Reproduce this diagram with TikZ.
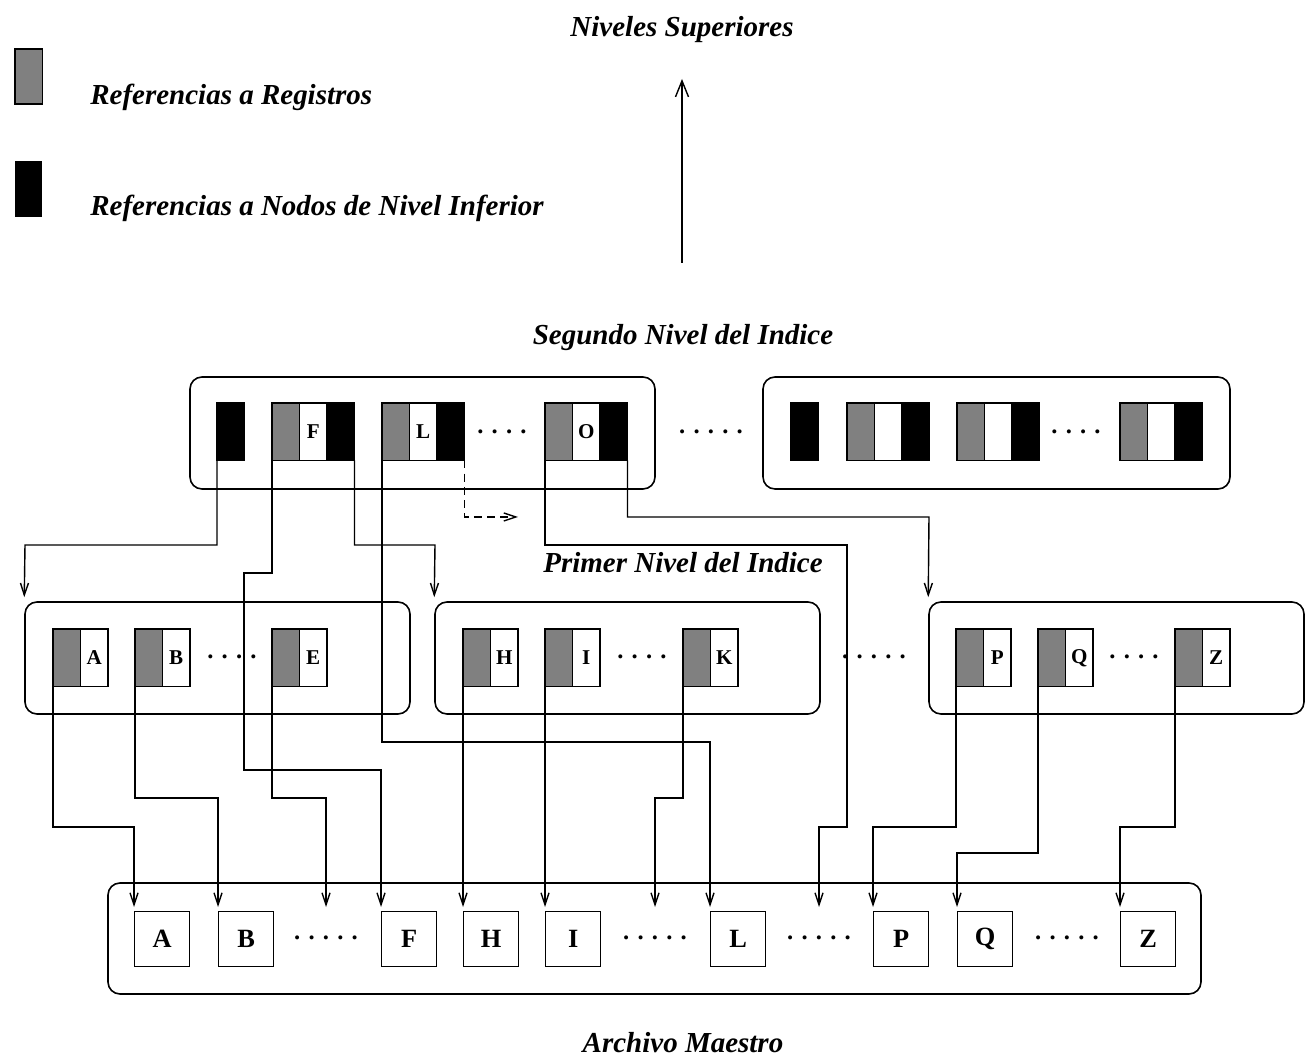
\documentclass[tikz,border=0pt]{standalone}
\usepackage{fontspec}
\setmainfont{Liberation Serif}
\usetikzlibrary{arrows.meta,fit}
\tikzset{>=Stealth,
  celda/.style={draw,line width=.8pt,inner sep=0pt,outer sep=0pt,anchor=north west,
    minimum width=.55cm,minimum height=1.15cm,font=\fontsize{12}{12}\selectfont\bfseries},
  gris/.style={celda,fill=black!50},
  negra/.style={celda,fill=black},
  blanca/.style={celda,fill=white},
  caja/.style={draw,line width=.9pt,rounded corners=.24cm,inner sep=0pt},
  reg/.style={draw,line width=.8pt,inner sep=0pt,anchor=north west,minimum size=1.1cm,
    font=\fontsize{15}{15}\selectfont\bfseries},
  titulo/.style={font=\fontsize{16.5}{18}\selectfont\bfseries\itshape},
  puntos/.style={font=\fontsize{14}{14}\selectfont\bfseries,inner sep=0pt},
  flecha/.style={line width=.8pt,-{Straight Barb[length=2.4mm,width=1.6mm]},shorten >=.8mm}}
% gris | letra | negra, nodo del segundo nivel
\newcommand{\trio}[3]{\node[gris] (#1g) at (#2,403) {};
  \node[blanca] (#1b) at (#2+27.5,403) {#3};
  \node[negra] (#1n) at (#2+55,403) {};}
% gris | letra, nodo del primer nivel
\newcommand{\duo}[3]{\node[gris] (#1g) at (#2,629) {};
  \node[blanca] (#1b) at (#2+27.5,629) {#3};}

\begin{document}
\begin{tikzpicture}[x=.02cm,y=-.02cm]
\path[use as bounding box] (0,0) rectangle (1306,1060);
% Leyenda.
\node[celda,fill=black!50,minimum height=1.1cm] (legG) at (15,49) {};
\node[celda,fill=black,minimum height=1.12cm,draw=none] (legN) at (15,161) {};
\node[titulo,anchor=west,inner sep=0pt] (txtG) at (90,97) {Referencias a Registros};
\node[titulo,anchor=west,inner sep=0pt] (txtN) at (90,208) {Referencias a Nodos de Nivel Inferior};
% Niveles superiores.
\node[titulo] (sup) at (682,30) {Niveles Superiores};
\coordinate (base) at (682,263);
\coordinate (cima) at (682,79);
\draw[flecha,-{Straight Barb[length=3.2mm,width=2.6mm]},shorten >=0pt] (base) -- (cima);
% Segundo nivel del indice.
\node[titulo] (t2) at (683,338) {Segundo Nivel del Indice};
\node[caja,fit={(190,377) (655,489)}] (sup1) {};
\node[caja,fit={(763,377) (1230,489)}] (sup2) {};
\node[negra] (n0) at (217,403) {};
\trio{F}{272}{F}
\trio{L}{382}{L}
\node[puntos] (pS1) at (502,432) {. . . .};
\trio{O}{545}{O}
\node[puntos] (pS2) at (711,432) {. . . . .};
\node[negra] (r0) at (791,403) {};
\trio{r1}{847}{}
\trio{r2}{957}{}
\node[puntos] (pS3) at (1076,432) {. . . .};
\trio{r3}{1120}{}
% Primer nivel del indice.
\node[titulo] (t1) at (683,563) {Primer Nivel del Indice};
\node[caja,fit={(25,602) (410,714)}] (prim1) {};
\node[caja,fit={(435,602) (820,714)}] (prim2) {};
\node[caja,fit={(929,602) (1304,714)}] (prim3) {};
\duo{A}{53}{A}
\duo{B}{135}{B}
\node[puntos] (pP1) at (232,657) {. . . .};
\duo{E}{272}{E}
\duo{H}{463}{H}
\duo{I}{545}{I}
\node[puntos] (pP2) at (642,657) {. . . .};
\duo{K}{683}{K}
\node[puntos] (pP3) at (874,657) {. . . . .};
\duo{P}{956}{P}
\duo{Q}{1038}{Q}
\node[puntos] (pP4) at (1134,657) {. . . .};
\duo{Z}{1175}{Z}
% Archivo maestro.
\node[caja,fit={(108,883) (1201,994)}] (maestro) {};
\node[reg] (mA) at (134,911) {A};
\node[reg] (mB) at (218,911) {B};
\node[puntos] (pM1) at (326,938) {. . . . .};
\node[reg] (mF) at (381,911) {F};
\node[reg] (mH) at (463,911) {H};
\node[reg] (mI) at (545,911) {I};
\node[puntos] (pM2) at (655,938) {. . . . .};
\node[reg] (mL) at (710,911) {L};
\node[puntos] (pM3) at (819,938) {. . . . .};
\node[reg] (mP) at (873,911) {P};
\node[reg] (mQ) at (957,911) {Q};
\node[puntos] (pM4) at (1067,938) {. . . . .};
\node[reg] (mZ) at (1120,911) {Z};
\node[titulo] (t0) at (683,1043) {Archivo Maestro};
% Enlaces del segundo nivel.
\draw[flecha] (n0.south west) |- (25,545) -- (prim1.north west);
\draw[flecha] (Fg.south west) |- (244,573) |- (381,770) -- (mF.north west);
\draw[flecha] (Fn.south east) |- (435,545) -- (prim2.north west);
\draw[flecha] (Lg.south west) |- (710,742) -- (mL.north west);
\coordinate (sig) at (518,517);
\draw[flecha,dash pattern=on 4.5pt off 3pt,shorten >=0pt] (Ln.south east) |- (sig);
\draw[flecha] (Og.south west) |- (847,545) |- (819,827) -- (pM3 |- mA.north);
\draw[flecha] (On.south east) |- (929,517) -- (prim3.north west);
% Enlaces del primer nivel al archivo maestro.
\draw[flecha] (Ag.south west) |- (134,827) -- (mA.north west);
\draw[flecha] (Bg.south west) |- (218,798) -- (mB.north west);
\draw[flecha] (Eg.south west) |- (326,798) -- (pM1 |- mA.north);
\draw[flecha] (Hg.south west) -- (mH.north west);
\draw[flecha] (Ig.south west) -- (mI.north west);
\draw[flecha] (Kg.south west) |- (655,798) -- (pM2 |- mA.north);
\draw[flecha] (Pg.south west) |- (873,827) -- (mP.north west);
\draw[flecha] (Qg.south west) |- (957,853) -- (mQ.north west);
\draw[flecha] (Zg.south west) |- (1120,827) -- (mZ.north west);
\end{tikzpicture}
\end{document}
